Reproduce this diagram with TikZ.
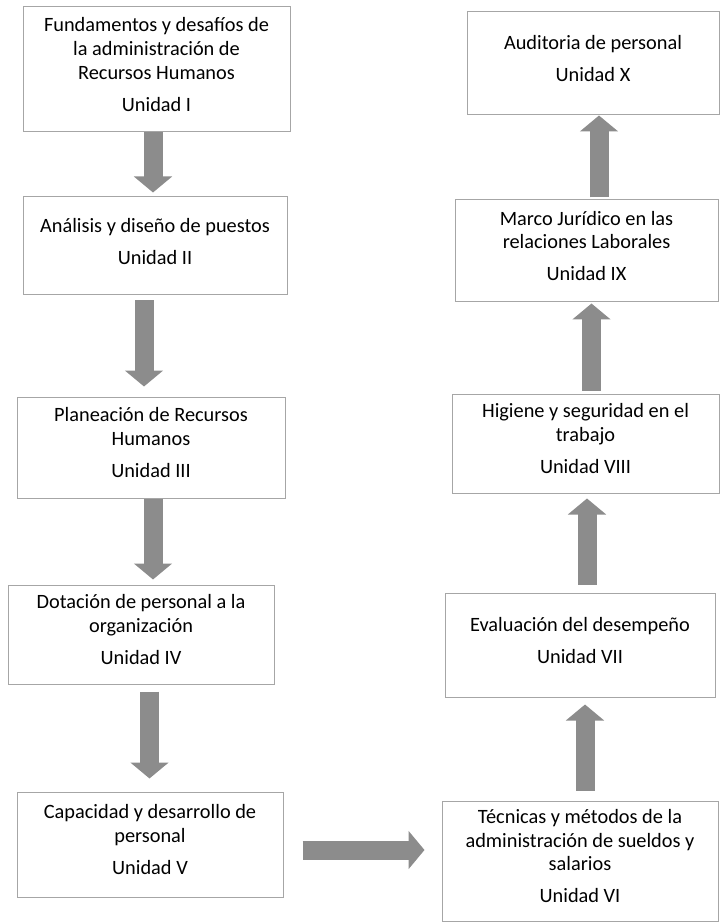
\documentclass[tikz,border=0pt]{standalone}
\usepackage{fontspec}
\setmainfont{Carlito}
\usepackage{tikz}
\usetikzlibrary{arrows.meta}

\definecolor{boxgray}{HTML}{A6A6A6}
\definecolor{arrowgray}{HTML}{8C8C8C}

\begin{document}
\begin{tikzpicture}[x=0.6pt,y=-0.6pt,
    unidad/.style={draw=boxgray,line width=0.6pt,align=center,inner sep=2pt,
        text depth=6pt,font=\fontsize{12.2pt}{14.2pt}\selectfont},
    blockarrow/.style={draw=arrowgray,line width=11.4pt,
        -{Triangle[width=22.5pt,length=9.6pt]}}]
       \useasboundingbox (0,0) rectangle (720,924);

       % Columna izquierda
       \node[unidad,minimum width=160.2pt,minimum height=75pt] (u1) at (156.5,69.5)
           {Fundamentos y desafíos de\\la administración de\\Recursos Humanos\\[5pt]Unidad I};
       \node[unidad,minimum width=158.4pt,minimum height=58.8pt] (u2) at (155,246)
           {Análisis y diseño de puestos\\[5pt]Unidad II};
       \node[unidad,minimum width=160.8pt,minimum height=60.6pt] (u3) at (151,447.5)
           {Planeación de Recursos\\Humanos\\[5pt]Unidad III};
       \node[unidad,minimum width=159.6pt,minimum height=59.4pt] (u4) at (141,634.5)
           {Dotación de personal a la\\organización\\[5pt]Unidad IV};
       \node[unidad,minimum width=159.6pt,minimum height=63pt] (u5) at (150,844.5)
           {Capacidad y desarrollo de\\personal\\[5pt]Unidad V};

       % Columna derecha
       \node[unidad,minimum width=165.6pt,minimum height=72pt] (u6) at (580,861)
           {Técnicas y métodos de la\\administración de sueldos y\\salarios\\[5pt]Unidad VI};
       \node[unidad,minimum width=162pt,minimum height=62.4pt] (u7) at (580,645)
           {Evaluación del desempeño\\[5pt]Unidad VII};
       \node[unidad,minimum width=160.2pt,minimum height=59.4pt] (u8) at (585.5,443.5)
           {Higiene y seguridad en el\\trabajo\\[5pt]Unidad VIII};
       \node[unidad,minimum width=157.8pt,minimum height=61.2pt] (u9) at (586.5,251)
           {Marco Jurídico en las\\relaciones Laborales\\[5pt]Unidad IX};
       \node[unidad,minimum width=151.2pt,minimum height=61.8pt] (u10) at (593,63.5)
           {Auditoria de personal\\[5pt]Unidad X};

       % Flechas
       \draw[blockarrow,shorten >=2.4pt] (u1.south -| 153,0) -- (u2.north -| 153,0);
       \draw[blockarrow,shorten <=3pt,shorten >=6pt] (u2.south -| 144,0) -- (u3.north -| 144,0);
       \draw[blockarrow,shorten >=3pt] (u3.south -| 153,0) -- (u4.north -| 153,0);
       \draw[blockarrow,shorten <=4.2pt,shorten >=7.8pt] (u4.south -| 149.5,0) -- (u5.north -| 149.5,0);
       \draw[blockarrow,shorten <=11.4pt,shorten >=10.2pt] (u5.east |- 0,850) -- (u6.west |- 0,850);
       \draw[blockarrow,shorten <=6pt,shorten >=4.2pt] (u6.north -| 585,0) -- (u7.south -| 585,0);
       \draw[blockarrow,shorten <=4.8pt,shorten >=3pt] (u7.north -| 587,0) -- (u8.south -| 587,0);
       \draw[blockarrow,shorten <=1.8pt,shorten >=0.6pt] (u8.north -| 591.5,0) -- (u9.south -| 591.5,0);
       \draw[blockarrow,shorten <=1.2pt] (u9.north -| 599,0) -- (u10.south -| 599,0);
\end{tikzpicture}
\end{document}
